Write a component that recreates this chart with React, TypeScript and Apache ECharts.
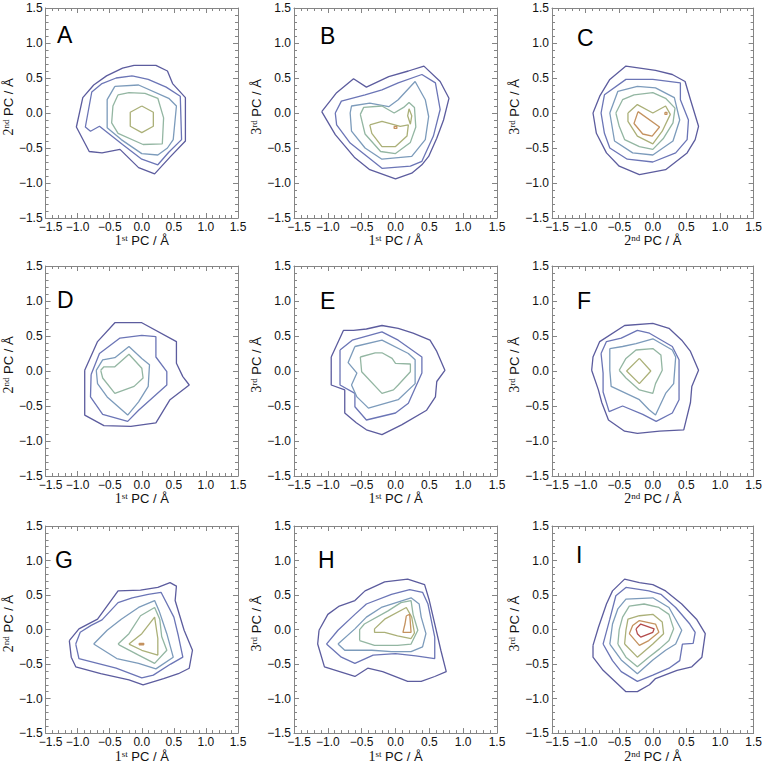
import React, { useEffect, useRef } from "react";
import * as echarts from "echarts";

type Pt = [number, number];
type Contour = { level: number; pts: Pt[] };

// ---------- data ----------
const TICK_VALUES = [-1.5, -1.0, -0.5, 0.0, 0.5, 1.0, 1.5];
const LEVEL_COLORS = ["#5c5c9e", "#6b75b6", "#7c9bbb", "#93b6a2", "#abb078", "#c4925f", "#b34a4a"];
const PANEL_LETTERS = ["A", "B", "C", "D", "E", "F", "G", "H", "I"];
const X_ORDINALS = [["1", "st"], ["1", "st"], ["2", "nd"], ["1", "st"], ["1", "st"], ["2", "nd"], ["1", "st"], ["1", "st"], ["2", "nd"]];
const Y_ORDINALS = [["2", "nd"], ["3", "rd"], ["3", "rd"], ["2", "nd"], ["3", "rd"], ["3", "rd"], ["2", "nd"], ["3", "rd"], ["3", "rd"]];

const panelA: Contour[] = [
  { level: 1, pts: [[-0.12, 0.68], [0.22, 0.68], [0.40, 0.60], [0.48, 0.42], [0.68, 0.22], [0.68, -0.40], [0.45, -0.62], [0.20, -0.87], [-0.05, -0.78], [-0.34, -0.52], [-0.62, -0.57], [-0.82, -0.55], [-1.02, -0.20], [-0.92, 0.22], [-0.75, 0.40], [-0.55, 0.53], [-0.30, 0.64]] },
  { level: 2, pts: [[-0.15, 0.53], [0.10, 0.48], [0.38, 0.37], [0.60, 0.24], [0.62, -0.38], [0.42, -0.56], [0.25, -0.74], [0.0, -0.66], [-0.30, -0.45], [-0.66, -0.19], [-0.80, -0.26], [-0.88, -0.20], [-0.78, 0.30], [-0.62, 0.42], [-0.40, 0.50]] },
  { level: 3, pts: [[-0.42, 0.38], [-0.05, 0.40], [0.42, 0.21], [0.54, 0.10], [0.49, -0.38], [0.40, -0.50], [0.25, -0.60], [0.0, -0.58], [-0.32, -0.38], [-0.54, -0.21], [-0.54, 0.19]] },
  { level: 4, pts: [[-0.37, 0.26], [-0.20, 0.29], [0.05, 0.28], [0.25, 0.21], [0.34, -0.07], [0.32, -0.44], [0.02, -0.45], [-0.37, -0.29], [-0.47, -0.14], [-0.45, 0.10]] },
  { level: 5, pts: [[0.0, 0.10], [0.18, 0.01], [0.18, -0.19], [0.0, -0.28], [-0.18, -0.19], [-0.18, 0.01]] },
];

const panelB: Contour[] = [
  { level: 1, pts: [[-1.09, 0.02], [-0.87, 0.29], [-0.62, 0.49], [-0.43, 0.37], [-0.10, 0.52], [0.19, 0.60], [0.42, 0.67], [0.66, 0.45], [0.79, 0.21], [0.71, -0.10], [0.61, -0.36], [0.49, -0.62], [0.39, -0.74], [0.24, -0.86], [0.0, -0.94], [-0.38, -0.81], [-0.60, -0.64], [-0.89, -0.31]] },
  { level: 2, pts: [[-0.89, 0.0], [-0.80, 0.17], [-0.45, 0.26], [-0.20, 0.33], [0.04, 0.43], [0.39, 0.55], [0.59, 0.43], [0.66, 0.05], [0.56, -0.33], [0.39, -0.69], [0.22, -0.76], [-0.20, -0.79], [-0.67, -0.43], [-0.87, -0.17]] },
  { level: 3, pts: [[-0.67, 0.0], [-0.65, 0.10], [-0.38, 0.14], [-0.10, 0.09], [0.04, 0.19], [0.29, 0.45], [0.44, 0.19], [0.49, -0.05], [0.44, -0.38], [0.24, -0.62], [-0.20, -0.66], [-0.45, -0.50], [-0.65, -0.26]] },
  { level: 4, pts: [[-0.52, -0.02], [-0.47, 0.08], [-0.20, 0.10], [-0.02, 0.0], [0.12, 0.08], [0.20, 0.15], [0.28, 0.08], [0.30, -0.20], [0.22, -0.42], [0.0, -0.58], [-0.22, -0.55], [-0.45, -0.30]] },
  { level: 5, pts: [[-0.38, -0.17], [-0.20, -0.12], [0.07, -0.19], [0.19, -0.17], [0.17, -0.33], [0.0, -0.48], [-0.20, -0.48], [-0.35, -0.29]] },
  { level: 5, pts: [[0.20, 0.06], [0.24, -0.04], [0.22, -0.16], [0.18, -0.04]] },
  { level: 6, pts: [[-0.02, -0.19], [0.02, -0.19], [0.02, -0.22], [-0.02, -0.22]] },
];

const panelC: Contour[] = [
  { level: 1, pts: [[-0.89, 0.0], [-0.79, 0.24], [-0.64, 0.48], [-0.40, 0.67], [0.04, 0.61], [0.29, 0.55], [0.48, 0.45], [0.56, 0.19], [0.68, -0.19], [0.63, -0.38], [0.51, -0.57], [0.19, -0.81], [-0.20, -0.88], [-0.50, -0.76], [-0.69, -0.57], [-0.84, -0.29]] },
  { level: 2, pts: [[-0.77, 0.0], [-0.72, 0.26], [-0.40, 0.48], [0.0, 0.48], [0.41, 0.43], [0.41, 0.19], [0.53, -0.10], [0.51, -0.38], [0.34, -0.57], [0.0, -0.70], [-0.38, -0.66], [-0.64, -0.50], [-0.72, -0.29]] },
  { level: 3, pts: [[-0.64, 0.0], [-0.52, 0.31], [-0.23, 0.38], [0.04, 0.36], [0.32, 0.22], [0.40, -0.10], [0.30, -0.40], [0.0, -0.60], [-0.30, -0.57], [-0.57, -0.40]] },
  { level: 4, pts: [[-0.55, 0.0], [-0.45, 0.19], [-0.28, 0.26], [0.0, 0.29], [0.19, 0.21], [0.33, 0.07], [0.30, -0.14], [0.16, -0.36], [0.0, -0.52], [-0.20, -0.48], [-0.42, -0.38], [-0.50, -0.19]] },
  { level: 5, pts: [[-0.37, 0.0], [-0.23, 0.12], [0.0, 0.0], [0.19, 0.10], [0.26, -0.02], [0.14, -0.26], [0.0, -0.44], [-0.23, -0.33], [-0.37, -0.12]] },
  { level: 6, pts: [[-0.22, 0.02], [0.10, -0.20], [-0.01, -0.33], [-0.15, -0.30], [-0.28, -0.15]] },
  { level: 6, pts: [[0.18, 0.01], [0.21, 0.01], [0.21, -0.02], [0.18, -0.02]] },
];

const panelD: Contour[] = [
  { level: 1, pts: [[-0.89, 0.01], [-0.69, 0.42], [-0.42, 0.69], [0.0, 0.69], [0.54, 0.42], [0.54, 0.11], [0.64, -0.08], [0.74, -0.20], [0.44, -0.41], [0.22, -0.74], [-0.17, -0.79], [-0.59, -0.78], [-0.89, -0.63]] },
  { level: 2, pts: [[-0.79, -0.05], [-0.66, 0.25], [-0.34, 0.47], [0.0, 0.51], [0.22, 0.49], [0.22, 0.20], [0.39, -0.01], [0.39, -0.20], [-0.05, -0.56], [-0.22, -0.72], [-0.61, -0.62], [-0.80, -0.37]] },
  { level: 3, pts: [[-0.71, 0.01], [-0.61, 0.16], [-0.42, 0.19], [-0.20, 0.35], [0.0, 0.18], [0.12, 0.09], [0.10, -0.22], [-0.05, -0.44], [-0.22, -0.63], [-0.54, -0.37], [-0.69, -0.18]] },
  { level: 4, pts: [[-0.64, 0.01], [-0.59, 0.06], [-0.42, 0.06], [-0.20, 0.24], [0.0, 0.04], [0.02, -0.10], [-0.12, -0.22], [-0.42, -0.32], [-0.61, -0.10]] },
];

const panelE: Contour[] = [
  { level: 1, pts: [[-0.95, 0.20], [-0.77, 0.58], [-0.62, 0.58], [-0.43, 0.60], [-0.20, 0.65], [0.04, 0.61], [0.26, 0.54], [0.51, 0.44], [0.61, 0.28], [0.73, 0.01], [0.61, -0.15], [0.59, -0.37], [0.46, -0.56], [0.09, -0.77], [-0.20, -0.91], [-0.43, -0.84], [-0.58, -0.74], [-0.75, -0.60], [-0.75, -0.27], [-0.95, -0.20]] },
  { level: 2, pts: [[-0.82, 0.30], [-0.64, 0.44], [-0.20, 0.56], [0.04, 0.44], [0.39, 0.20], [0.39, -0.03], [0.19, -0.46], [0.0, -0.60], [-0.43, -0.70], [-0.60, -0.51], [-0.60, -0.32], [-0.82, -0.20]] },
  { level: 3, pts: [[-0.60, 0.35], [-0.20, 0.44], [0.19, 0.25], [0.29, 0.16], [0.29, -0.18], [0.04, -0.41], [-0.40, -0.53], [-0.57, -0.37], [-0.65, -0.20], [-0.57, -0.03], [-0.70, 0.12]] },
  { level: 4, pts: [[-0.52, 0.20], [-0.30, 0.26], [-0.20, 0.26], [-0.05, 0.18], [0.0, 0.11], [0.22, 0.10], [0.22, -0.01], [0.04, -0.20], [-0.03, -0.27], [-0.20, -0.32], [-0.50, -0.01]] },
];

const panelF: Contour[] = [
  { level: 1, pts: [[-0.91, 0.01], [-0.89, 0.20], [-0.79, 0.42], [-0.42, 0.65], [0.0, 0.68], [0.24, 0.61], [0.43, 0.44], [0.56, 0.28], [0.68, 0.01], [0.58, -0.22], [0.56, -0.45], [0.46, -0.84], [0.10, -0.86], [-0.23, -0.89], [-0.42, -0.86], [-0.66, -0.70], [-0.76, -0.45], [-0.81, -0.27]] },
  { level: 2, pts: [[-0.77, 0.25], [-0.69, 0.42], [-0.47, 0.47], [-0.23, 0.58], [-0.05, 0.54], [0.29, 0.35], [0.39, 0.16], [0.39, -0.41], [0.29, -0.60], [0.05, -0.72], [-0.15, -0.62], [-0.45, -0.50], [-0.65, -0.58], [-0.74, -0.30], [-0.74, -0.03]] },
  { level: 3, pts: [[-0.64, 0.32], [-0.45, 0.35], [-0.25, 0.39], [0.0, 0.46], [0.29, 0.30], [0.34, 0.20], [0.31, -0.18], [0.19, -0.32], [0.04, -0.63], [-0.06, -0.55], [-0.20, -0.41], [-0.62, -0.22], [-0.64, 0.01]] },
  { level: 4, pts: [[-0.50, 0.01], [-0.40, 0.18], [-0.25, 0.30], [0.0, 0.32], [0.12, 0.23], [0.14, 0.01], [0.04, -0.18], [0.0, -0.32], [-0.20, -0.27], [-0.40, -0.10]] },
  { level: 5, pts: [[-0.20, 0.18], [-0.03, 0.0], [-0.20, -0.18], [-0.39, 0.0]] },
];

const panelG: Contour[] = [
  { level: 1, pts: [[-1.13, -0.16], [-0.98, 0.01], [-0.69, 0.15], [-0.37, 0.56], [-0.02, 0.57], [0.25, 0.61], [0.44, 0.68], [0.54, 0.63], [0.52, 0.42], [0.66, -0.01], [0.79, -0.30], [0.74, -0.56], [0.57, -0.64], [0.34, -0.71], [0.02, -0.80], [-0.20, -0.73], [-0.64, -0.64], [-1.03, -0.54], [-1.10, -0.40]] },
  { level: 2, pts: [[-1.03, -0.21], [-0.96, -0.04], [-0.79, 0.06], [-0.62, 0.14], [-0.37, 0.39], [-0.15, 0.46], [0.10, 0.51], [0.30, 0.54], [0.50, 0.18], [0.57, -0.09], [0.64, -0.40], [0.45, -0.50], [0.18, -0.66], [0.0, -0.70], [-0.40, -0.56], [-0.98, -0.42]] },
  { level: 3, pts: [[-0.75, -0.21], [-0.54, -0.01], [-0.32, 0.15], [-0.05, 0.32], [0.20, 0.42], [0.27, 0.27], [0.39, -0.06], [0.49, -0.40], [0.22, -0.57], [-0.05, -0.49], [-0.39, -0.42]] },
  { level: 4, pts: [[-0.37, -0.21], [-0.20, -0.06], [-0.02, 0.20], [0.20, 0.32], [0.28, 0.15], [0.31, -0.10], [0.39, -0.30], [0.20, -0.49], [-0.05, -0.37], [-0.34, -0.23]] },
  { level: 5, pts: [[-0.20, -0.21], [0.0, -0.06], [0.20, 0.18], [0.25, -0.13], [0.25, -0.37], [0.0, -0.30]] },
  { level: 6, pts: [[-0.04, -0.20], [0.03, -0.20], [0.03, -0.22], [-0.04, -0.22]] },
];

const panelH: Contour[] = [
  { level: 1, pts: [[-1.13, -0.01], [-1.0, 0.22], [-0.83, 0.34], [-0.60, 0.42], [-0.45, 0.56], [-0.16, 0.69], [0.18, 0.73], [0.43, 0.65], [0.50, 0.42], [0.67, -0.30], [0.75, -0.61], [0.58, -0.68], [0.38, -0.75], [0.18, -0.75], [-0.19, -0.61], [-0.41, -0.56], [-0.60, -0.68], [-1.05, -0.54], [-1.15, -0.21]] },
  { level: 2, pts: [[-1.02, -0.21], [-0.85, -0.01], [-0.60, 0.22], [-0.43, 0.37], [-0.06, 0.51], [0.21, 0.58], [0.40, 0.54], [0.48, 0.37], [0.58, -0.11], [0.58, -0.42], [0.30, -0.38], [0.0, -0.35], [-0.33, -0.37], [-0.60, -0.49], [-0.80, -0.40]] },
  { level: 3, pts: [[-0.85, -0.21], [-0.60, 0.01], [-0.43, 0.18], [-0.21, 0.32], [0.23, 0.46], [0.35, 0.37], [0.38, 0.18], [0.45, -0.06], [0.40, -0.25], [0.23, -0.32], [-0.06, -0.32], [-0.35, -0.30], [-0.75, -0.30]] },
  { level: 4, pts: [[-0.53, -0.16], [-0.53, 0.0], [-0.46, 0.08], [-0.11, 0.27], [0.08, 0.39], [0.23, 0.42], [0.26, 0.22], [0.33, -0.01], [0.23, -0.21], [0.03, -0.23], [-0.31, -0.23]] },
  { level: 5, pts: [[-0.31, 0.01], [-0.16, 0.15], [0.16, 0.32], [0.24, 0.18], [0.28, -0.05], [0.23, -0.13], [0.03, -0.09], [-0.16, -0.04], [-0.31, -0.04]] },
  { level: 6, pts: [[0.16, 0.20], [0.21, 0.22], [0.23, -0.04], [0.11, -0.04], [0.14, 0.08]] },
];

const panelI: Contour[] = [
  { level: 1, pts: [[-0.89, -0.23], [-0.89, -0.40], [-0.74, -0.59], [-0.40, -0.90], [-0.23, -0.90], [-0.05, -0.80], [0.04, -0.71], [0.36, -0.59], [0.58, -0.54], [0.73, -0.40], [0.78, -0.06], [0.65, 0.15], [0.43, 0.37], [0.19, 0.56], [0.0, 0.65], [-0.20, 0.68], [-0.42, 0.73], [-0.60, 0.56], [-0.69, 0.37], [-0.81, 0.03]] },
  { level: 2, pts: [[-0.74, -0.21], [-0.60, -0.45], [-0.47, -0.61], [-0.23, -0.75], [0.0, -0.66], [0.24, -0.56], [0.40, -0.45], [0.44, -0.21], [0.60, -0.20], [0.63, -0.04], [0.55, 0.08], [0.34, 0.32], [0.12, 0.51], [-0.06, 0.56], [-0.40, 0.61], [-0.55, 0.49], [-0.64, 0.15]] },
  { level: 3, pts: [[-0.64, -0.21], [-0.47, -0.44], [-0.23, -0.64], [0.0, -0.44], [0.19, -0.30], [0.34, -0.21], [0.43, -0.01], [0.24, 0.32], [0.0, 0.46], [-0.40, 0.44], [-0.52, 0.30], [-0.60, 0.08]] },
  { level: 4, pts: [[-0.52, -0.21], [-0.40, -0.40], [-0.23, -0.54], [-0.06, -0.40], [0.10, -0.28], [0.24, -0.16], [0.31, 0.01], [0.24, 0.22], [0.09, 0.32], [-0.13, 0.37], [-0.35, 0.34], [-0.45, 0.18], [-0.50, 0.0]] },
  { level: 5, pts: [[-0.42, -0.21], [-0.23, -0.40], [0.0, -0.21], [0.16, -0.06], [0.14, 0.11], [0.0, 0.22], [-0.20, 0.20], [-0.37, 0.15], [-0.40, -0.01]] },
  { level: 6, pts: [[-0.35, -0.06], [-0.20, -0.23], [-0.06, -0.16], [0.09, -0.04], [0.04, 0.08], [-0.20, 0.13], [-0.30, 0.06]] },
  { level: 7, pts: [[-0.25, 0.01], [-0.18, 0.08], [0.02, 0.01], [0.0, -0.04], [-0.18, -0.11], [-0.23, -0.06]] },
];

const PANELS: Contour[][] = [panelA, panelB, panelC, panelD, panelE, panelF, panelG, panelH, panelI];

// ---------- layout ----------
const GRID_LEFTS = [35, 294, 552];
const GRID_TOPS = [8, 266, 526];
const GRID_W = 203;
const GRID_H = 210;
const LETTER_POS: [number, number][] = [
  [57, 23], [320, 24], [577, 26],
  [57, 288], [320, 289], [577, 289],
  [55, 548], [318, 548], [576, 543],
];

const FRAME = "#858585";
const TEXT = "#111";
const SANS = "'Liberation Sans', Arial, Helvetica, sans-serif";
const SERIF = "'Liberation Serif', 'Times New Roman', serif";

const snap = (v: number) => {
  const m = TICK_VALUES.find((t) => Math.abs(t - v) < 1e-9);
  return m === undefined ? v : m;
};
const fmt = (v: number) => {
  const val = snap(v);
  return (val < 0 ? "\u2212" : "") + Math.abs(val).toFixed(1);
};
// x axis: the leftmost label sits a little to the right of its tick, as in the reference
const fmtX = (v: number) => {
  const s = fmt(v);
  return snap(v) === TICK_VALUES[0] ? `{m|${s}}` : s;
};

const nameRich = {
  o: { fontFamily: SERIF, fontSize: 14, color: TEXT, lineHeight: 14 },
  s: { fontFamily: SERIF, fontSize: 9, color: TEXT, lineHeight: 9, verticalAlign: "top" },
  p: { fontFamily: SANS, fontSize: 13, color: TEXT, lineHeight: 14 },
};

function buildOption() {
  const grid: any[] = [];
  const xAxis: any[] = [];
  const yAxis: any[] = [];
  const series: any[] = [];
  const graphic: any[] = [];

  const baseAxis = (gridIndex: number, position: string, showLabel: boolean, formatter: any) => ({
    type: "value",
    gridIndex,
    position,
    min: -1.5,
    max: 1.5,
    interval: 0.5,
    axisLine: { show: true, onZero: false, lineStyle: { color: FRAME, width: 1 } },
    axisTick: { show: true, inside: true, length: 5, lineStyle: { color: FRAME } },
    minorTick: { show: true, splitNumber: 5, length: 3, lineStyle: { color: FRAME } },
    splitLine: { show: false },
    minorSplitLine: { show: false },
    axisLabel: {
      show: showLabel,
      margin: 3,
      fontSize: 12,
      fontFamily: SANS,
      color: TEXT,
      formatter,
      showMinLabel: true,
      showMaxLabel: true,
      rich: { m: { fontSize: 12, fontFamily: SANS, color: TEXT, padding: [0, 0, 0, 10] } },
    },
  });

  PANELS.forEach((contours, p) => {
    const col = p % 3;
    const row = Math.floor(p / 3);
    grid.push({ left: GRID_LEFTS[col], top: GRID_TOPS[row], width: GRID_W, height: GRID_H, show: false });
    const xo = X_ORDINALS[p];
    const yo = Y_ORDINALS[p];
    xAxis.push({
      ...baseAxis(p, "bottom", true, fmtX),
      name: `{o|${xo[0]}}{s|${xo[1]}}{p| PC / Å}`,
      nameLocation: "middle",
      nameGap: 12,
      nameTextStyle: { rich: nameRich, verticalAlign: "top" },
    });
    xAxis.push(baseAxis(p, "top", false, fmt));
    yAxis.push({
      ...baseAxis(p, "left", true, fmt),
      name: `{o|${yo[0]}}{s|${yo[1]}}{p| PC / Å}`,
      nameLocation: "middle",
      nameGap: 17,
      nameRotate: 90,
      nameTextStyle: { rich: nameRich, padding: [0, 0, 0, 12] },
    });
    yAxis.push(baseAxis(p, "right", false, fmt));

    contours.forEach((c) => {
      series.push({
        type: "line",
        xAxisIndex: 2 * p,
        yAxisIndex: 2 * p,
        data: [...c.pts, c.pts[0]],
        symbol: "none",
        showSymbol: false,
        smooth: false,
        silent: true,
        clip: false,
        lineStyle: { color: LEVEL_COLORS[c.level - 1], width: 1.3 },
      });
    });

    graphic.push({
      type: "text",
      left: LETTER_POS[p][0],
      top: LETTER_POS[p][1],
      style: { text: PANEL_LETTERS[p], fontSize: 23, fontFamily: SANS, fill: "#000" },
    });
  });

  return { animation: false, backgroundColor: "#fff", grid, xAxis, yAxis, series, graphic };
}

export default function App() {
  const ref = useRef<HTMLDivElement>(null);
  useEffect(() => {
    document.body.style.margin = "0";
    if (!ref.current) return;
    const chart = echarts.init(ref.current, undefined, { renderer: "svg" });
    chart.setOption(buildOption() as any);
    return () => chart.dispose();
  }, []);
  return <div ref={ref} style={{ width: 765, height: 764 }} />;
}
